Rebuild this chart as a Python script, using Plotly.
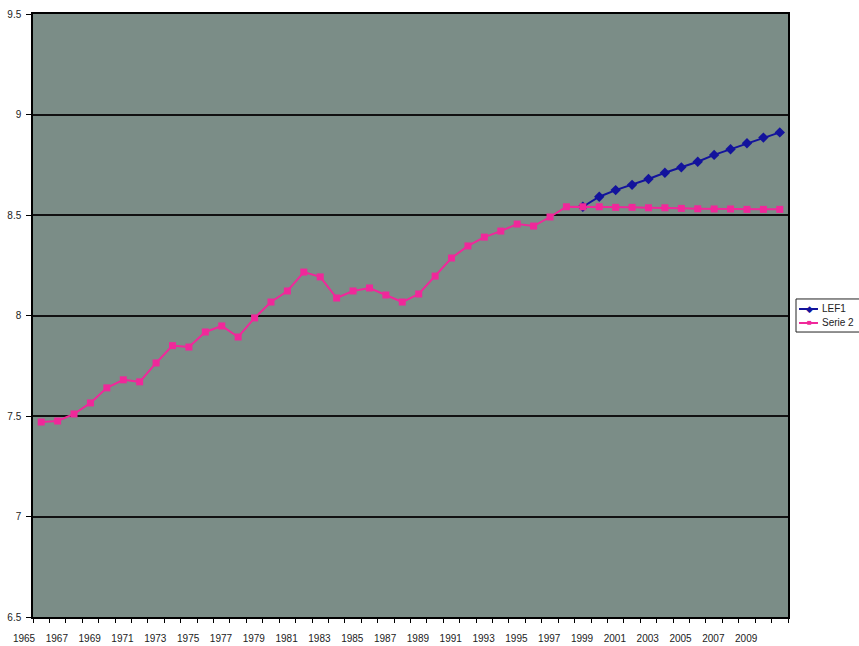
import plotly.graph_objects as go

# Years on the category axis
years = list(range(1965, 2011))

# Historical series (Serie 2), 1965-2010
serie2 = [7.47, 7.475, 7.51, 7.565, 7.64, 7.68, 7.67, 7.764, 7.85, 7.843,
          7.918, 7.948, 7.893, 7.988, 8.067, 8.122, 8.216, 8.192, 8.087, 8.122,
          8.137, 8.102, 8.067, 8.107, 8.196, 8.286, 8.346, 8.39, 8.42, 8.455,
          8.445, 8.49, 8.541, 8.541, 8.541, 8.538, 8.538, 8.536, 8.536, 8.533,
          8.531, 8.530, 8.530, 8.528, 8.528, 8.528]

# Projection LEF1, 1998-2010
lef1_years = list(range(1998, 2011))
lef1 = [8.541, 8.591, 8.624, 8.65, 8.679, 8.71, 8.737, 8.765, 8.799, 8.827,
        8.857, 8.885, 8.911]

# x labels every second year
label_years = list(range(1965, 2010, 2))
y_ticks = [6.5, 7, 7.5, 8, 8.5, 9, 9.5]

BLUE = "#13139C"
PINK = "#F0289A"

# tick marks sit on category boundaries, labels on the left boundary of their year
bounds = [y - 0.5 for y in years] + [years[-1] + 0.5]
bound_text = [str(int(b + 0.5)) if int(b + 0.5) in label_years else "" for b in bounds]

fig = go.Figure()

fig.add_trace(go.Scatter(
    x=lef1_years, y=lef1, name="LEF1", mode="lines+markers",
    line=dict(color=BLUE, width=2),
    marker=dict(symbol="diamond", size=8, color=BLUE),
))
fig.add_trace(go.Scatter(
    x=years, y=serie2, name="Serie 2", mode="lines+markers",
    line=dict(color=PINK, width=2),
    marker=dict(symbol="square", size=7, color=PINK),
))

# hand-drawn legend box (the original one runs off the right edge)
shapes = [
    dict(type="rect", xref="paper", yref="paper", x0=1.0106, x1=1.2, y0=0.4726, y1=0.5274,
         fillcolor="white", line=dict(color="#222222", width=1)),
    dict(type="line", xref="paper", yref="paper", x0=1.0146, x1=1.0397, y0=0.5108, y1=0.5108,
         line=dict(color=BLUE, width=2)),
    dict(type="line", xref="paper", yref="paper", x0=1.0146, x1=1.0397, y0=0.4876, y1=0.4876,
         line=dict(color=PINK, width=2)),
]
annotations = [
    dict(xref="paper", yref="paper", x=1.0291, y=0.5108, text="◆", showarrow=False,
         font=dict(size=9, color=BLUE), xanchor="center", yanchor="middle"),
    dict(xref="paper", yref="paper", x=1.0291, y=0.4876, text="■", showarrow=False,
         font=dict(size=8, color=PINK), xanchor="center", yanchor="middle"),
    dict(xref="paper", yref="paper", x=1.0420, y=0.5108, text="LEF1", showarrow=False,
         font=dict(size=10, color="#222222"), xanchor="left", yanchor="middle"),
    dict(xref="paper", yref="paper", x=1.0420, y=0.4876, text="Serie 2", showarrow=False,
         font=dict(size=10, color="#222222"), xanchor="left", yanchor="middle"),
]

fig.update_layout(
    width=859, height=646,
    margin=dict(l=33, r=71, t=14, b=29, autoexpand=False),
    plot_bgcolor="#7B8D87",
    paper_bgcolor="white",
    font=dict(family="Liberation Sans, Arial, sans-serif", size=10, color="#222222"),
    showlegend=False,
    shapes=shapes,
    annotations=annotations,
    xaxis=dict(
        range=[years[0] - 0.5, years[-1] + 0.5],
        tickmode="array", tickvals=bounds, ticktext=bound_text,
        ticks="outside", ticklen=4, tickcolor="black", tickwidth=1,
        ticklabelshift=-9, ticklabelstandoff=7, automargin=False,
        showgrid=False, zeroline=False,
        showline=True, linecolor="black", linewidth=1.5, mirror=True,
    ),
    yaxis=dict(
        range=[6.5, 9.5], tickmode="array", tickvals=y_ticks,
        ticktext=[f"{v:g}" for v in y_ticks], automargin=False,
        ticks="outside", ticklen=5, tickcolor="black", ticklabelstandoff=3,
        showgrid=True, gridcolor="#111111", gridwidth=1.5, zeroline=False,
        showline=True, linecolor="black", linewidth=1.5, mirror=True,
    ),
)

fig.write_html("out.html", config={"displayModeBar": False},
               post_script="document.body.style.margin='0';")
